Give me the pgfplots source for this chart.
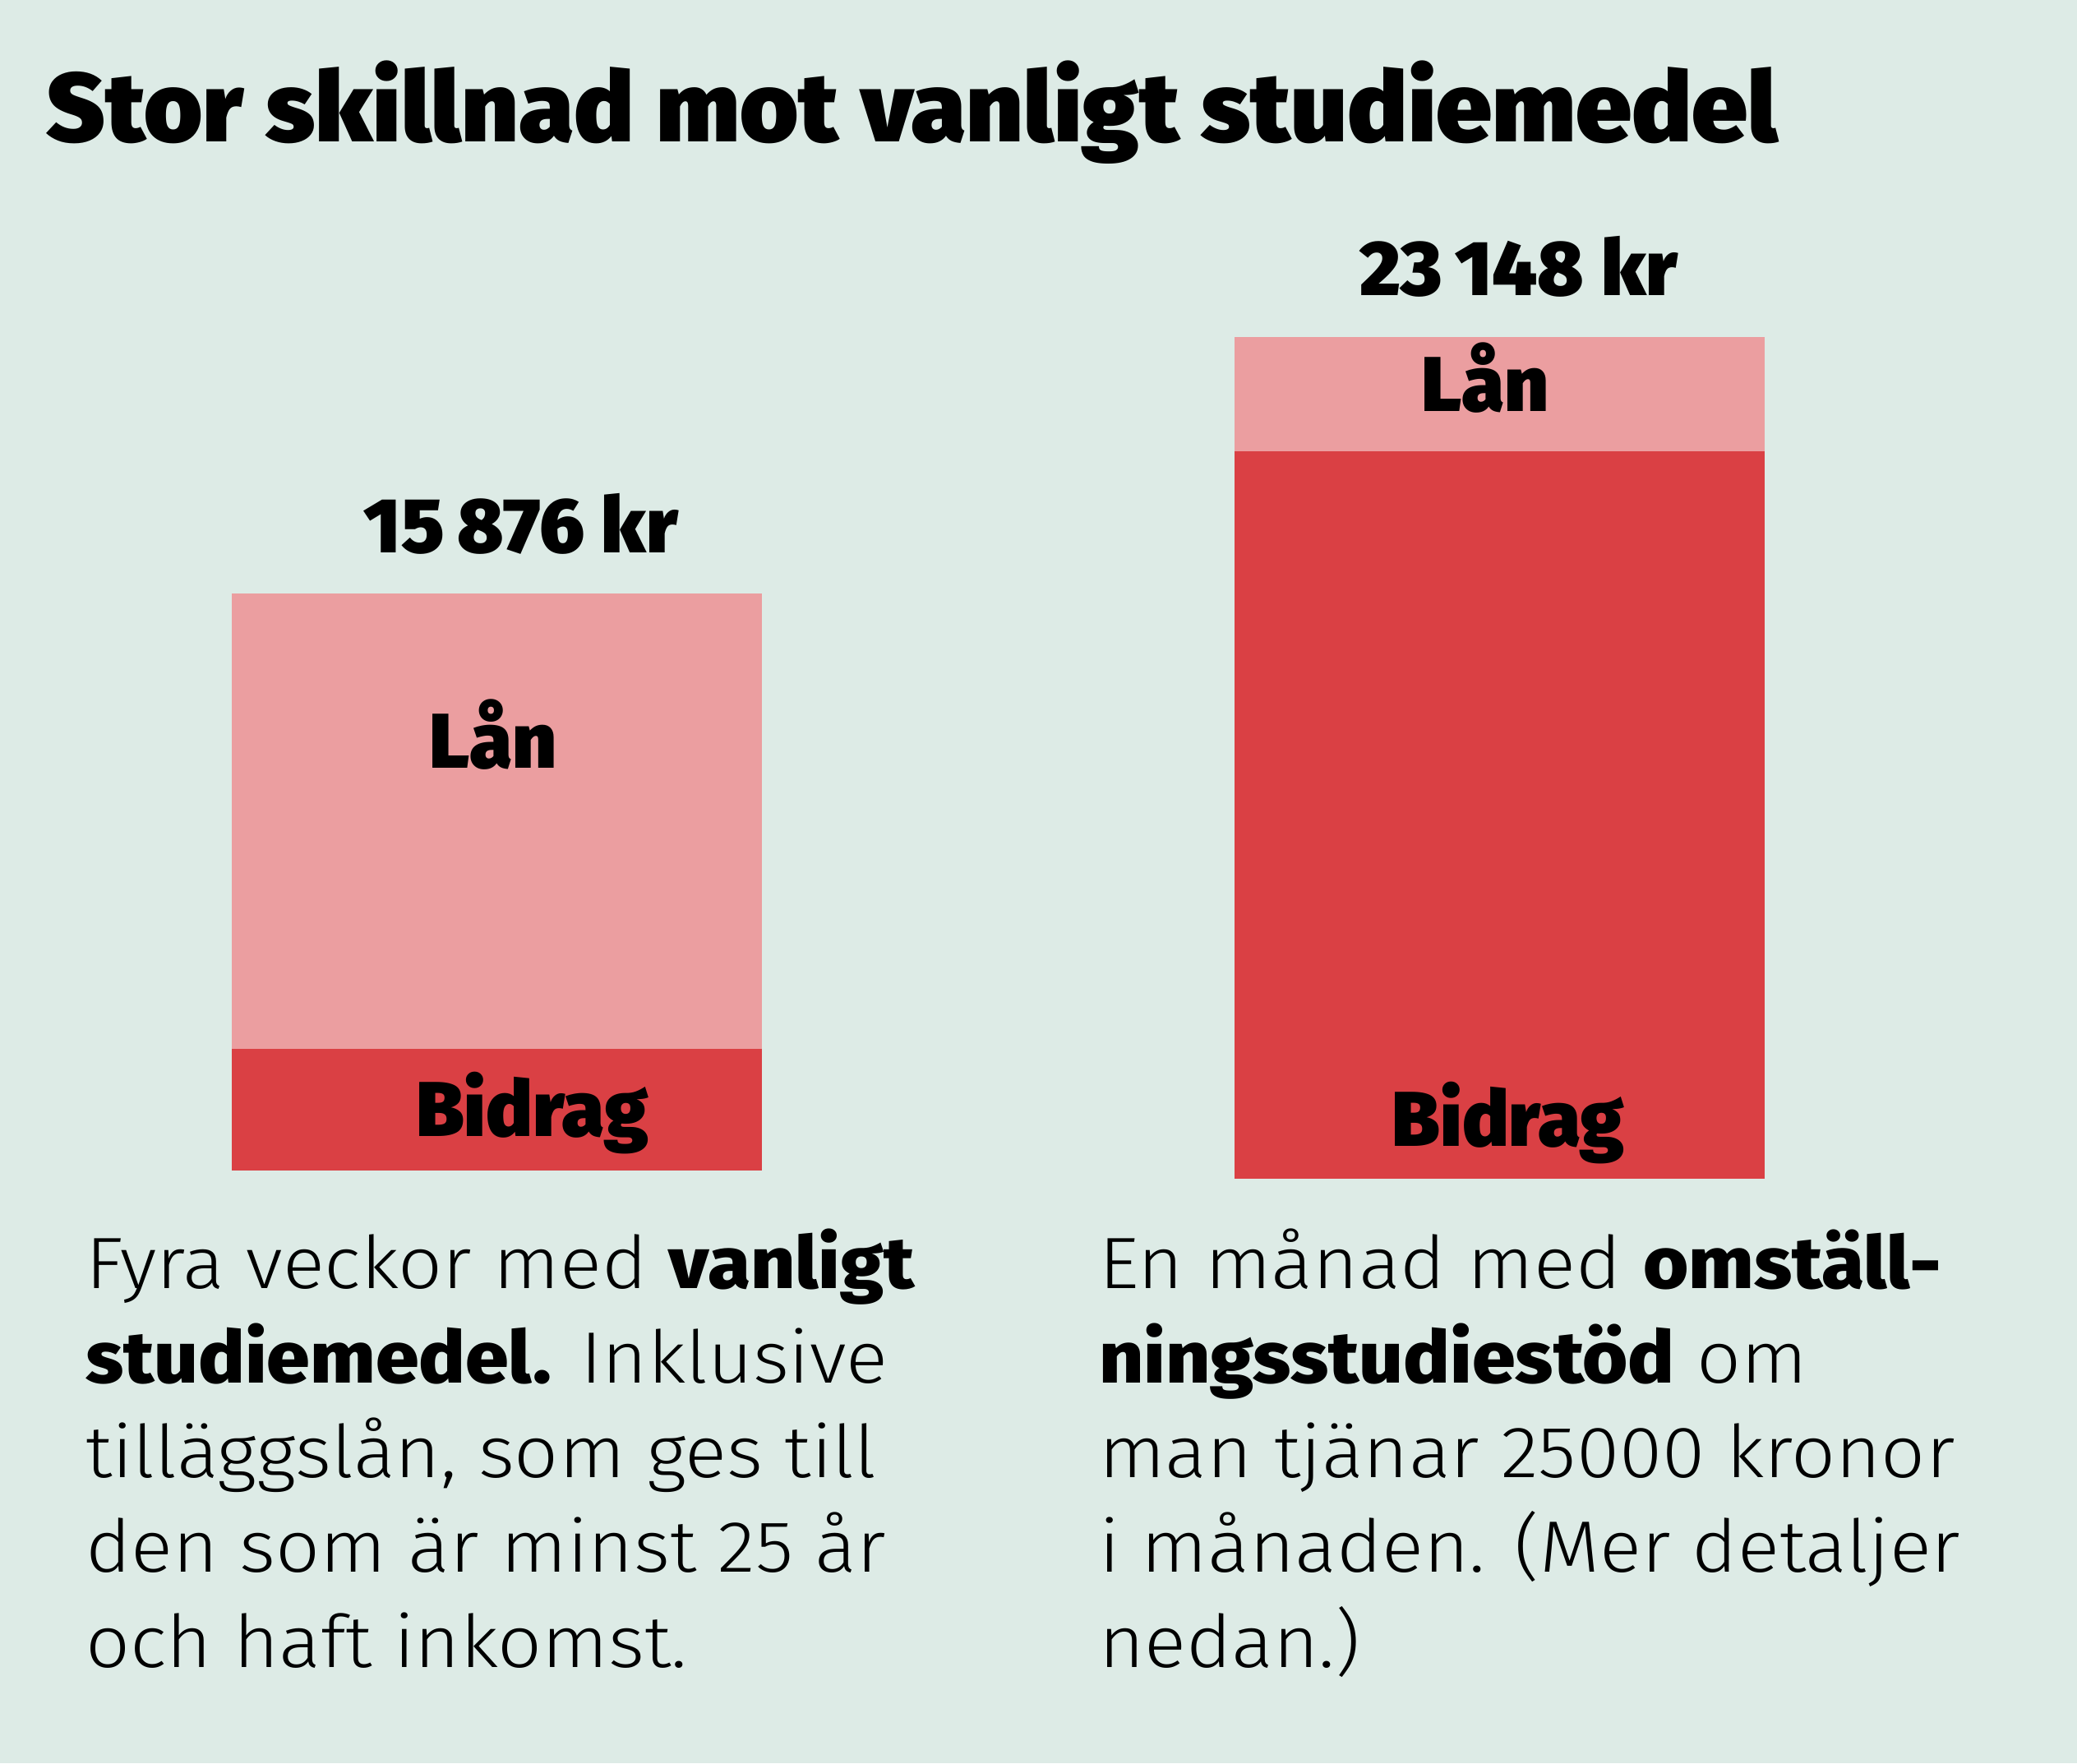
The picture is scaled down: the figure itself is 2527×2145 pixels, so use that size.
\documentclass[border=0pt]{standalone}
\usepackage{pgfplots}
\pgfplotsset{compat=1.18}
\usepackage{fontspec}
\IfFontExistsTF{Fira Sans ExtraBold}{\def\bodybold{Fira Sans ExtraBold}}{\def\bodybold{Fira Sans Bold}}
\IfFontExistsTF{Fira Sans Light}{%
  \setmainfont{Fira Sans Light}[FakeStretch=1.07, BoldFont={\bodybold}, BoldFeatures={FakeStretch=1.07}]}{%
  \setmainfont{Fira Sans}[FakeStretch=1.07]}
\IfFontExistsTF{Fira Sans Black}{%
  \newfontfamily\heavy{Fira Sans Black}%
  \newfontfamily\titlefont{Fira Sans Black}[FakeStretch=1.025]}{%
  \newfontfamily\heavy{Fira Sans Bold}%
  \newfontfamily\titlefont{Fira Sans Bold}}
\definecolor{bg}{RGB}{221,235,230}
\definecolor{dred}{RGB}{218,64,68}
\definecolor{lred}{RGB}{235,158,160}
\begin{document}
\begin{tikzpicture}[x=0.2pt,y=0.2pt]
\path[use as bounding box] (0,0) rectangle (2527,2145);
\fill[bg] (0,0) rectangle (2527,2145);
% title
\node[anchor=base west, inner sep=0pt] at (56,1972.3) {\titlefont\fontsize{23.8pt}{28pt}\selectfont Stor skillnad mot vanligt studiemedel};
% left bar
\begin{axis}[at={(56.4pt,144.2pt)}, anchor=south west, scale only axis,
  width=129pt, height=141.536pt, xmin=0, xmax=1, ymin=0, ymax=16000,
  enlargelimits=false, hide axis, ybar stacked, bar width=129pt, clip=false]
\addplot[fill=dred, draw=none] coordinates {(0.5,3348)};
\addplot[fill=lred, draw=none] coordinates {(0.5,12528)};
\end{axis}
% right bar
\begin{axis}[at={(300.3pt,142.2pt)}, anchor=south west, scale only axis,
  width=129.1pt, height=212.304pt, xmin=0, xmax=1, ymin=0, ymax=24000,
  enlargelimits=false, hide axis, ybar stacked, bar width=129.1pt, clip=false]
\addplot[fill=dred, draw=none] coordinates {(0.5,20000)};
\addplot[fill=lred, draw=none] coordinates {(0.5,3148)};
\end{axis}
% bar labels
\tikzset{lab/.style={anchor=base, inner sep=0pt, font=\heavy\fontsize{18.9pt}{22pt}\selectfont}}
\node[lab] at (634,1472) {15\,876 kr};
\node[lab] at (1848,1785) {23\,148 kr};
\node[lab] at (600,1210) {Lån};
\node[lab] at (647.5,762) {Bidrag};
\node[lab] at (1807,1644.3) {Lån};
\node[lab] at (1835,750) {Bidrag};
% body text
\tikzset{body/.style={anchor=base west, inner sep=0pt, font=\fontsize{17.7pt}{23pt}\selectfont}}
\node[body] at (103,578) {Fyra veckor med \textbf{vanligt}};
\node[body] at (103,463) {\textbf{studiemedel.} Inklusive};
\node[body] at (103,348) {tilläggslån, som ges till};
\node[body] at (103,233) {den som är minst 25 år};
\node[body] at (103,117) {och haft inkomst.};
\node[body] at (1336,578) {En månad med \textbf{omställ-}};
\node[body] at (1336,463) {\textbf{ningsstudiestöd} om};
\node[body] at (1336,348) {man tjänar 25000 kronor};
\node[body] at (1336,233) {i månaden. (Mer detaljer};
\node[body] at (1336,117) {nedan.)};
\end{tikzpicture}
\end{document}
